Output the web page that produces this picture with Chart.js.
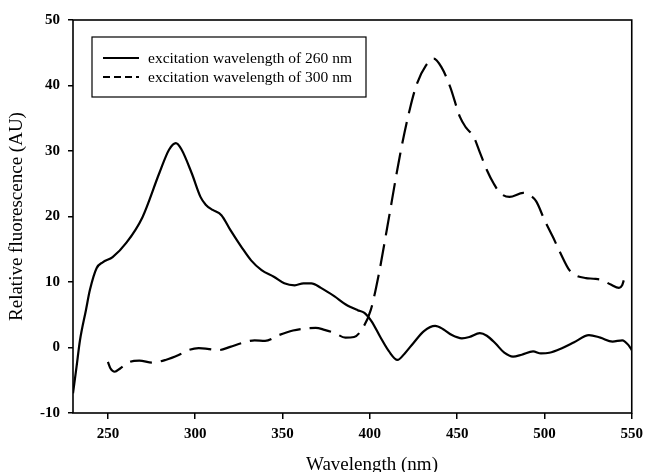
<!DOCTYPE html>
<html>
<head>
<meta charset="utf-8">
<script src="https://cdn.jsdelivr.net/npm/chart.js@4.4.1/dist/chart.umd.min.js"></script>
<style>
    html, body { margin: 0; padding: 0; background: #fff; }
    #wrap { width: 649px; height: 472px; }
</style>
</head>
<body>
<div id="wrap"><canvas id="spectrum"></canvas></div>
<script>
// emission spectra, wavelength (nm) vs relative fluorescence (AU)
let ex260_wl = [230, 232, 234, 237.4, 239.7, 243.5, 247, 252.7, 260.6, 269.8, 279.4, 285, 288.9, 292, 298, 303, 306, 310, 315, 320, 326.6, 332, 338, 345, 351, 357, 362, 366.5, 372, 379.8, 386, 393, 396.9, 401, 406, 411, 415.8, 420, 425, 431, 437.4, 442, 447, 452.7, 457, 463, 467, 472, 477, 482, 487, 493.5, 498, 502.8, 510, 517, 525.5, 532, 539, 544.6, 548, 550];
let ex260_au = [-7.0, -3.0, 1.1, 5.7, 8.8, 12.1, 13.0, 13.8, 16.0, 19.9, 26.6, 30.2, 31.2, 30.3, 26.6, 23.0, 21.8, 21.0, 20.2, 18.0, 15.3, 13.3, 11.8, 10.8, 9.8, 9.5, 9.8, 9.8, 9.1, 7.8, 6.6, 5.7, 5.3, 4.0, 1.6, -0.6, -1.9, -0.9, 0.7, 2.5, 3.3, 2.8, 1.9, 1.4, 1.6, 2.2, 1.8, 0.6, -0.8, -1.4, -1.1, -0.6, -0.9, -0.8, -0.1, 0.8, 1.9, 1.5, 0.9, 1.1, 0.4, -0.4];

let ex300_wl = [250, 251.5, 253.9, 257, 262.4, 268, 275.5, 283, 290.8, 296, 302, 307, 313.5, 320, 327, 334, 340, 348, 356, 362.8, 369, 374, 380, 386, 391, 396, 400.5, 405, 410, 417.5, 423, 427, 432, 436.6, 441, 446, 451.6, 455, 459.4, 463, 467, 471, 474.6, 480, 487.8, 492, 495.3, 500, 504.8, 509, 514.3, 518, 523.8, 528, 533, 538, 542.7, 544.5, 545.5];
let ex300_au = [-2.2, -3.2, -3.7, -3.2, -2.2, -2.0, -2.3, -1.9, -1.1, -0.4, -0.1, -0.2, -0.4, 0.1, 0.7, 1.1, 1.0, 1.9, 2.6, 2.9, 3.0, 2.7, 2.2, 1.5, 1.6, 3.0, 5.7, 11.0, 18.4, 29.7, 36.5, 40.3, 43.0, 44.1, 42.8, 39.8, 35.2, 33.6, 32.2, 29.8, 27.1, 25.0, 23.6, 23.0, 23.6, 23.2, 22.3, 19.5, 16.9, 14.5, 11.8, 11.0, 10.6, 10.5, 10.3, 9.6, 9.1, 9.5, 10.3];

let series_names = ['excitation wavelength of 260 nm', 'excitation wavelength of 300 nm'];
let x_ticks = [250, 300, 350, 400, 450, 500, 550];
let y_ticks = [-10, 0, 10, 20, 30, 40, 50];

function toPoints(xs, ys) {
    return xs.map((x, i) => ({ x: x, y: ys[i] }));
}

const serif = "'Liberation Serif', 'Times New Roman', serif";

// frame around the plot, boxed legend and the x-axis caption
let framePlugin = {
    id: 'frame',
    afterDraw(chart) {
        let ctx = chart.ctx;
        let a = chart.chartArea;
        ctx.save();
        ctx.strokeStyle = '#000';
        ctx.lineWidth = 1.6;
        ctx.strokeRect(a.left, a.top, a.right - a.left, a.bottom - a.top);

        // legend box
        ctx.lineWidth = 1.2;
        ctx.strokeRect(92, 37, 274, 60);
        ctx.font = '15.5px ' + serif;
        ctx.fillStyle = '#000';
        ctx.textBaseline = 'middle';
        chart.data.datasets.forEach((ds, i) => {
            let y = 58 + i * 19;
            ctx.lineWidth = 2;
            ctx.setLineDash(i === 0 ? [] : [7, 4]);
            ctx.beginPath();
            ctx.moveTo(103, y);
            ctx.lineTo(139, y);
            ctx.stroke();
            ctx.setLineDash([]);
            ctx.fillText(ds.label, 148, y + 1);
        });

        ctx.font = '19px ' + serif;
        ctx.textAlign = 'center';
        ctx.fillText('Wavelength (nm)', 372, 465);
        ctx.restore();
    }
};

let ctx = document.getElementById('spectrum');
new Chart(ctx, {
    type: 'scatter',
    data: {
        datasets: [
            {
                label: series_names[0],
                data: toPoints(ex260_wl, ex260_au),
                showLine: true,
                borderColor: '#000',
                borderWidth: 2.2,
                pointRadius: 0,
                cubicInterpolationMode: 'monotone'
            },
            {
                label: series_names[1],
                data: toPoints(ex300_wl, ex300_au),
                showLine: true,
                borderColor: '#000',
                borderWidth: 2.2,
                borderDash: [22, 9],
                pointRadius: 0,
                cubicInterpolationMode: 'monotone'
            }
        ]
    },
    options: {
        responsive: true,
        maintainAspectRatio: false,
        animation: false,
        layout: {
            padding: { left: 0, right: 13, top: 20, bottom: 0 }
        },
        plugins: {
            legend: { display: false },
            tooltip: { enabled: false }
        },
        scales: {
            x: {
                type: 'linear',
                min: 230,
                max: 550,
                afterBuildTicks(scale) {
                    scale.ticks = x_ticks.map(v => ({ value: v }));
                },
                afterFit(scale) {
                    scale.height = 59;
                },
                border: { display: false },
                grid: {
                    drawOnChartArea: false,
                    drawTicks: true,
                    tickLength: 6,
                    color: '#000',
                    lineWidth: 1.5
                },
                ticks: {
                    color: '#000',
                    padding: 6,
                    font: { family: serif, size: 15, weight: 'bold' }
                }
            },
            y: {
                min: -10,
                max: 50,
                afterBuildTicks(scale) {
                    scale.ticks = y_ticks.map(v => ({ value: v }));
                },
                afterFit(scale) {
                    scale.width = 73;
                },
                border: { display: false },
                grid: {
                    drawOnChartArea: false,
                    drawTicks: true,
                    tickLength: 5,
                    color: '#000',
                    lineWidth: 1.5
                },
                ticks: {
                    color: '#000',
                    padding: 8,
                    font: { family: serif, size: 15, weight: 'bold' }
                },
                title: {
                    display: true,
                    text: 'Relative fluorescence (AU)',
                    color: '#000',
                    padding: { top: 6, bottom: 0 },
                    font: { family: serif, size: 19 }
                }
            }
        }
    },
    plugins: [framePlugin]
});
</script>
</body>
</html>
